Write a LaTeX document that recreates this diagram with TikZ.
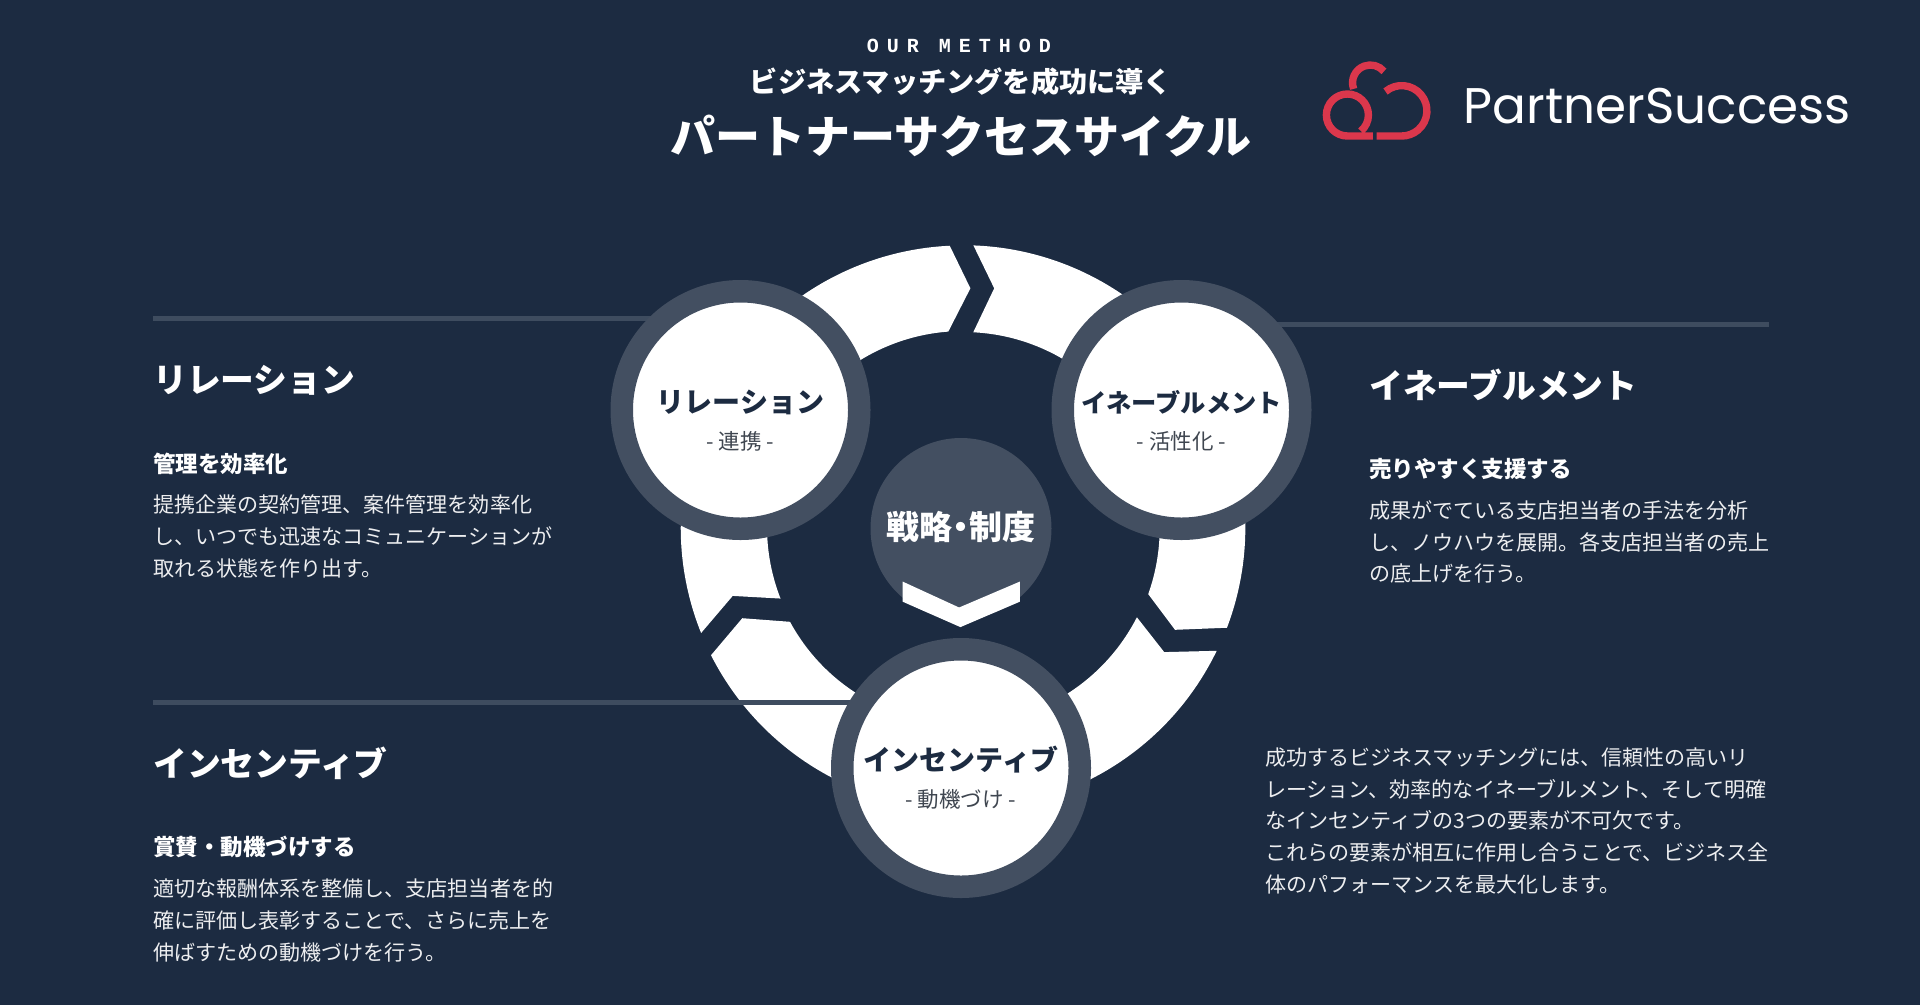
\documentclass[tikz,border=0pt]{standalone}
\usepackage{fontspec}
\setmainfont{Noto Sans CJK JP}
\newfontfamily\monofont[LetterSpace=40]{Liberation Mono}
\newfontfamily\logofont{Poppins}
\usetikzlibrary{positioning}
\definecolor{navy}{HTML}{1C2B41}
\definecolor{slate}{HTML}{434F61}
\definecolor{rulegrey}{HTML}{3E4C5F}
\definecolor{logored}{HTML}{DB374C}
\definecolor{ink}{HTML}{1C2B41}
\definecolor{muted}{HTML}{3F4650}
\newcommand{\fs}[1]{\fontsize{#1}{#1}\selectfont}
\tikzset{
  ringpart/.style={fill=white},
  cyclenode/.style={circle, draw=slate, fill=white, line width=22.5pt, minimum size=237.5pt, inner sep=0pt},
  cycletitle/.style={font=\fs{28}\bfseries, text=ink, inner sep=0pt},
  cyclesub/.style={font=\fs{21.5}, text=muted, inner sep=0pt},
  sectionrule/.style={draw=rulegrey, line width=5pt},
  heading/.style={anchor=west, font=\fs{33.8}\bfseries, text=white, inner sep=0pt},
  subheading/.style={anchor=west, font=\fs{22.5}\bfseries, text=white, inner sep=0pt},
  bodytext/.style={anchor=north west, align=left, font=\fontsize{21.05}{31.7}\selectfont, text=white!92!navy, inner sep=0pt},
  logoline/.style={draw=logored, line width=7.4pt}
}
\begin{document}
\begin{tikzpicture}[x=1pt, y=1pt]
  \useasboundingbox (0,0) rectangle (1920,-1005);
  \fill[navy] (0,0) rectangle (1920,-1005);

  % header
  \node[font=\fs{20}\monofont\bfseries, text=white, inner sep=0pt] (eyebrow) at (959,-46) {OUR METHOD};
  \node[font=\fs{28.2}\bfseries, text=white, inner sep=0pt] (subtitle) at (961,-82) {ビジネスマッチングを成功に導く};
  \node[font=\fs{45}\bfseries, text=white, inner sep=0pt] (title) at (961,-136) {パートナーサクセスサイクル};

  % logo
  \draw[logoline] (1353.6,-88.9) arc[start angle=200, end angle=40, radius=17.8];
  \draw[logoline] (1385.5,-91.5) arc[start angle=130, end angle=-90, radius=25.2] -- (1376.6,-136);
  \draw[logoline] (1372.9,-136) -- (1347.4,-136) arc[start angle=-90, end angle=-410, radius=21];
  \node[anchor=west, inner sep=0pt, text=white] (logotext) at (1463.5,-106)
    {\resizebox{387pt}{!}{\logofont\fs{60}PartnerSuccess}};

  % ring
  \path[ringpart] (701.1,-633) arc[start angle=201.9, end angle=92.7, radius=282.3]
    -- (970.4,-288.3) -- (948.3,-331.6)
    arc[start angle=94.3, end angle=201.4, radius=196] -- (732.7,-595.9) -- cycle;
  \path[ringpart] (973.4,-245.4) arc[start angle=87.9, end angle=-20.8, radius=282.3]
    -- (1175,-629.8) -- (1148.2,-594.1)
    arc[start angle=-19.7, end angle=87.2, radius=196] -- (994.2,-288.3) -- cycle;
  \path[ringpart] (1216.7,-650.8) arc[start angle=-25.9, end angle=-153.1, radius=282.3]
    -- (742.3,-618.2) -- (790,-621.8)
    arc[start angle=208.5, end angle=333, radius=196] -- (1164.2,-652.1) -- cycle;

  % rules run under the circles
  \coordinate (relationrule) at (153,-318);
  \coordinate (enablerule) at (1769,-324.5);
  \coordinate (incentiverule) at (153,-702);
  \coordinate (relationhub) at (740.5,-410);
  \coordinate (enablehub) at (1181.5,-410);
  \coordinate (incentivehub) at (961,-768);
  \draw[sectionrule] (relationrule) -- (relationrule -| relationhub);
  \draw[sectionrule] (enablerule) -- (enablerule -| enablehub);
  \draw[sectionrule] (incentiverule) -- (incentiverule -| incentivehub);

  % circles
  \node[cyclenode] (relation) at (relationhub) {};
  \node[cyclenode] (enable) at (enablehub) {};
  \node[cyclenode] (incentive) at (incentivehub) {};
  \node[cycletitle] (relationtitle) at (740.5,-402) {リレーション};
  \node[cyclesub, below=17pt of relationtitle] (relationsub) {- 連携 -};
  \node[cycletitle, font=\fs{25.3}\bfseries] (enabletitle) at (1181.5,-402) {イネーブルメント};
  \node[cyclesub, below=17pt of enabletitle] (enablesub) {- 活性化 -};
  \node[cycletitle] (incentivetitle) at (961,-760) {インセンティブ};
  \node[cyclesub, below=15pt of incentivetitle] (incentivesub) {- 動機づけ -};

  % centre
  \node[circle, fill=slate, minimum size=181pt, inner sep=0pt] (strategy) at (961,-528.5) {};
  \node[font=\fs{33}\bfseries, text=white, inner sep=0pt] (strategytitle) at (961,-527)
    {戦略\hspace{-8pt}・\hspace{-8pt}制度};
  \fill[white] (902.7,-581.6) -- (959.1,-607.5) -- (1019.8,-581.6) -- (1019.8,-601.7) -- (960.4,-627.1) -- (902.7,-601.7) -- cycle;

  % left column
  \node[heading] (relationhead) at (153,-380) {リレーション};
  \node[subheading, below=84pt of relationhead.west, anchor=west] (relationlead) {管理を効率化};
  \node[bodytext] (relationbody) at (153,-495) {提携企業の契約管理、案件管理を効率化\\し、いつでも迅速なコミュニケーションが\\取れる状態を作り出す。};
  \node[heading] (incentivehead) at (153,-763) {インセンティブ};
  \node[subheading, below=84pt of incentivehead.west, anchor=west] (incentivelead) {賞賛・動機づけする};
  \node[bodytext] (incentivebody) at (153,-879) {適切な報酬体系を整備し、支店担当者を的\\確に評価し表彰することで、さらに売上を\\伸ばすための動機づけを行う。};

  % right column
  \node[heading] (enablehead) at (1369,-384.5) {イネーブルメント};
  \node[subheading, below=84pt of enablehead.west, anchor=west] (enablelead) {売りやすく支援する};
  \node[bodytext] (enablebody) at (1369,-500.5) {成果がでている支店担当者の手法を分析\\し、ノウハウを展開。各支店担当者の売上\\の底上げを行う。};
  \node[bodytext] (summary) at (1265,-747.5) {成功するビジネスマッチングには、信頼性の高いリ\\レーション、効率的なイネーブルメント、そして明確\\なインセンティブの3つの要素が不可欠です。\\これらの要素が相互に作用し合うことで、ビジネス全\\体のパフォーマンスを最大化します。};
\end{tikzpicture}
\end{document}
